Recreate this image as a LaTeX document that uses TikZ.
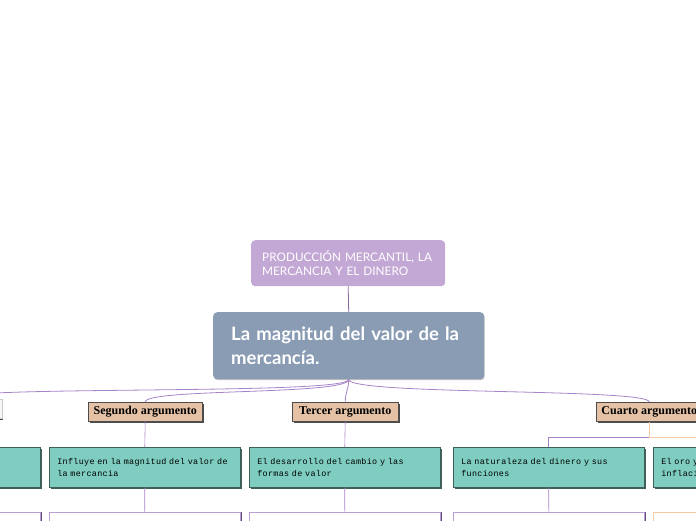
\documentclass[tikz,border=0pt]{standalone}
\usepackage{fontspec}
\setmainfont{Lato}
\newfontfamily\monofont{Liberation Mono}[WordSpace={1,0,0}, LetterSpace=4]
\newfontfamily\argfont{Liberation Serif}
\newcommand\ideafont{\monofont\fontsize{8.4}{12}\selectfont\hyphenpenalty=10000\relax}
\usetikzlibrary{shadows}
\definecolor{topfill}{HTML}{C3A8D5}
\definecolor{mainfill}{HTML}{8A9CB4}
\definecolor{argfill}{HTML}{E5C2A6}
\definecolor{tealfill}{HTML}{7ECDC0}
\definecolor{tealline}{HTML}{3F5F59}
\definecolor{linkcol}{HTML}{A783C9}
\definecolor{orangecol}{HTML}{F6C9A2}
\begin{document}
\begin{tikzpicture}[x=1pt, y=-1pt,
    link/.style={draw=linkcol, line width=0.8pt},
    topic/.style={anchor=north west, fill=topfill, rounded corners=4pt, text=white,
        minimum width=194pt, minimum height=46pt, inner xsep=11pt, text width=172pt,
        align=left, font=\fontsize{11.8}{14}\selectfont},
    central/.style={anchor=north west, fill=mainfill, rounded corners=4pt, text=white,
        minimum width=271pt, minimum height=67pt, inner xsep=18pt, text width=235pt,
        align=left, font=\bfseries\fontsize{18.5}{24}\selectfont,
        drop shadow={shadow xshift=0.5pt, shadow yshift=-1pt, fill=black!25, opacity=1}},
    argbox/.style={anchor=north west, fill=argfill, draw=black!70, line width=0.5pt,
        minimum height=19pt, inner xsep=3pt, inner ysep=0pt,
        font=\argfont\bfseries\fontsize{12}{13}\selectfont,
        drop shadow={shadow xshift=1.5pt, shadow yshift=-1.5pt, fill=black!70, opacity=1}},
    idea/.style={anchor=north west, fill=tealfill, draw=tealline, line width=0.5pt,
        minimum width=191pt, minimum height=40pt, inner xsep=8pt, text width=175pt,
        align=left, font=\ideafont,
        drop shadow={shadow xshift=1.5pt, shadow yshift=-1.5pt, fill=tealline, opacity=1}},
    detail/.style={anchor=north west, fill=white, draw=linkcol!80, line width=0.6pt,
        minimum width=191pt, minimum height=40pt,
        drop shadow={shadow xshift=1.5pt, shadow yshift=0pt, fill=linkcol!60!black, opacity=1}}]
    \useasboundingbox (0,0) rectangle (696,520);
    \clip (0,0) rectangle (696,520);
    % Topic and central idea
    \node[topic] (top) at (251,240) {PRODUCCIÓN MERCANTIL, LA MERCANCIA Y EL DINERO};
    \node[central] (main) at (213,312) {La magnitud del valor de la mercancía.};
    % Arguments
    \node[argbox, fill=black!3, draw=black!20, drop shadow={opacity=0}, minimum width=100pt] (primer) at (-98.5,399) {};
    \node[argbox, minimum width=114pt] (segundo) at (88,402) {Segundo argumento};
    \node[argbox, minimum width=106pt] (tercer) at (292,402) {Tercer argumento};
    \node[argbox, minimum width=106pt] (cuarto) at (596,402) {Cuarto argumento};
    % Ideas
    \node[idea] (primer-a) at (-151,447) {};
    \node[idea] (segundo-a) at (49,447) {Influye en la magnitud del valor de\\la mercancia};
    \node[idea] (tercer-a) at (249,447) {El desarrollo del cambio y las\\formas de valor};
    \node[idea] (cuarto-a) at (453,447) {La naturaleza del dinero y sus\\funciones};
    \node[idea] (cuarto-b) at (653,447) {El oro y la\\inflación};
    % Details below
    \node[detail] (primer-d) at (-151,512) {};
    \node[detail] (segundo-d) at (49,512) {};
    \node[detail] (tercer-d) at (249,512) {};
    \node[detail] (cuarto-d) at (453,512) {};
    \node[detail, draw=orangecol, drop shadow={opacity=0}] (oro-d) at (653,512) {};
    % Connectors
    \draw[link, draw=linkcol!80!black] (top.south) -- (main.north);
    \draw[link] (main.south) .. controls +(0,16) and +(0,-14) .. (primer.north);
    \draw[link] (main.south) .. controls +(0,16) and +(0,-14) .. (segundo.north);
    \draw[link] (main.south) .. controls +(0,10) and +(0,-10) .. (tercer.north);
    \draw[link] (main.south) .. controls +(0,16) and +(0,-14) .. (cuarto.north);
    \draw[link, line width=0.6pt] (segundo.south) -- (segundo-a.north);
    \draw[link, line width=0.6pt] (tercer.south) -- (tercer-a.north);
    \draw[link, line width=0.6pt] (cuarto.south) -- ++(0,16) -| (cuarto-a.north);
    \draw[link, line width=0.6pt, draw=orangecol] (cuarto.south) -- ++(0,16) -| (cuarto-b.north);
    \draw[link, line width=0.6pt] (primer-a.south) -- (primer-d.north);
    \draw[link, line width=0.6pt] (segundo-a.south) -- (segundo-d.north);
    \draw[link, line width=0.6pt] (tercer-a.south) -- (tercer-d.north);
    \draw[link, line width=0.6pt] (cuarto-a.south) -- (cuarto-d.north);
\end{tikzpicture}
\end{document}
